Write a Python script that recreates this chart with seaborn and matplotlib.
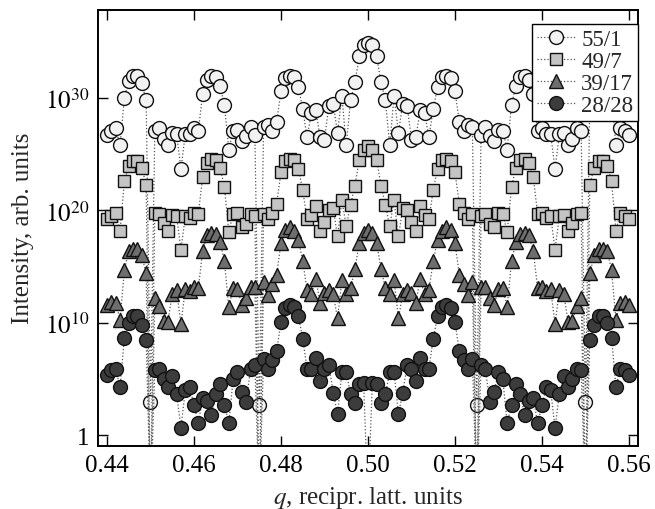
"""
Diffraction intensity vs q for four layer ratios (log scale, dotted lines + markers).
"""

import matplotlib
matplotlib.use("Agg")
import matplotlib.pyplot as plt
import numpy as np
import seaborn as sns

OUT = "out.png"

# q grid: 0.440 ... 0.560 in steps of 0.001
q = np.round(np.arange(440, 561) / 1000.0, 3)

OFF = -6.0  # zero intensity, falls below the axis

# log10(intensity)
log_55_1 = [
    26.7, 27.1, 27.3, 25.8, 30.0, 31.5, 32.0, 32.0, 31.3, 29.8,
    3.0, 27.1, 27.3, 26.4, 25.8, 26.9, 26.8, 23.7, 26.8, 26.8,
    27.3, 27.1, 30.4, 31.6, 32.0, 31.9, 31.1, 29.4, 25.4, 27.1,
    27.2, 26.2, 26.6, 27.4, 26.7, 2.7, 27.4, 27.6, 27.1, 27.9,
    30.6, 31.8, 32.0, 31.9, 31.0, 29.0, 26.5, 28.7, 28.9, 26.5,
    26.3, 29.3, 29.5, 26.9, 30.2, 25.8, 29.8, 31.4, 33.7, 34.7,
    34.9,
    34.7, 33.7, 31.4, 29.8, 25.8, 30.2, 26.9, 29.5, 29.3, 26.3,
    26.5, 28.9, 28.7, 26.5, 29.0, 31.0, 31.9, 32.0, 31.8, 30.6,
    27.9, 27.1, 27.6, 27.4, 2.7, 26.7, 27.4, 26.6, 26.2, 27.2,
    27.1, 25.4, 29.4, 31.1, 31.9, 32.0, 31.6, 30.4, 27.1, 27.3,
    26.8, 26.8, 23.7, 26.8, 26.9, 25.8, 26.4, 27.3, 27.1, 3.0,
    29.8, 31.3, 32.0, 32.0, 31.5, 30.0, 25.8, 27.3, 27.1, 26.7,
]

log_49_7 = [
    19.2, 19.5, 19.8, 18.2, 22.6, 24.0, 24.4, 24.4, 23.8, 22.3,
    OFF, 19.8, 19.7, 18.9, 18.2, 19.6, 19.5, 16.5, 19.5, 19.3,
    19.8, 19.7, 23.0, 24.2, 24.6, 24.5, 23.8, 22.1, 18.1, 19.7,
    19.8, 18.5, 18.8, 19.7, 19.5, OFF, 19.7, 19.2, 19.8, 20.6,
    23.4, 24.4, 24.6, 24.5, 23.7, 21.8, 19.2, 19.6, 20.4, 18.2,
    19.0, 20.0, 20.2, 17.7, 20.9, 18.6, 20.5, 22.2, 24.5, 25.4,
    25.7,
    25.4, 24.5, 22.2, 20.5, 18.6, 20.9, 17.7, 20.2, 20.0, 19.0,
    18.2, 20.4, 19.6, 19.2, 21.8, 23.7, 24.5, 24.6, 24.4, 23.4,
    20.6, 19.8, 19.2, 19.7, OFF, 19.5, 19.7, 18.8, 18.5, 19.8,
    19.7, 18.1, 22.1, 23.8, 24.5, 24.6, 24.2, 23.0, 19.7, 19.8,
    19.3, 19.5, 16.5, 19.5, 19.6, 18.2, 18.9, 19.7, 19.8, OFF,
    22.3, 23.8, 24.4, 24.4, 24.0, 22.6, 18.2, 19.8, 19.5, 19.2,
]

log_39_17 = [
    11.6, 11.9, 11.8, 10.3, 14.7, 16.4, 16.6, 16.6, 16.0, 14.4,
    OFF, 12.2, 11.5, 10.2, 10.1, 12.6, 12.9, 9.9, 13.0, 12.8,
    13.2, 13.1, 16.4, 17.8, 18.0, 17.9, 17.2, 15.5, 11.4, 13.1,
    13.0, 11.6, 12.2, 13.2, 13.2, OFF, 13.6, 12.5, 13.5, 14.3,
    17.1, 18.3, 18.5, 18.2, 17.4, 15.5, 12.9, 12.6, 13.9, 11.8,
    12.7, 12.9, 12.6, 10.4, 13.8, 12.6, 13.1, 14.8, 17.1, 18.0,
    18.3,
    18.0, 17.1, 14.8, 13.1, 12.6, 13.8, 10.4, 12.6, 12.9, 12.7,
    11.8, 13.9, 12.6, 12.9, 15.5, 17.4, 18.2, 18.5, 18.3, 17.1,
    14.3, 13.5, 12.5, 13.6, OFF, 13.2, 13.2, 12.2, 11.6, 13.0,
    13.1, 11.4, 15.5, 17.2, 17.9, 18.0, 17.8, 16.4, 13.1, 13.2,
    12.8, 13.0, 9.9, 12.9, 12.6, 10.1, 10.2, 11.5, 12.2, OFF,
    14.4, 16.0, 16.6, 16.6, 16.4, 14.7, 10.3, 11.8, 11.9, 11.6,
]

log_28_28 = [
    5.4, 5.8, 5.9, 4.3, 8.7, 10.0, 10.6, 10.6, 9.8, 8.5,
    OFF, 5.8, 5.9, 5.0, 4.3, 5.3, 3.7, 0.7, 4.0, 4.3,
    2.7, 1.1, 3.3, 3.1, 1.8, 3.7, 4.6, 2.7, 1.1, 5.0,
    5.6, 3.9, 3.0, 5.9, 6.3, OFF, 6.8, 5.9, 6.7, 7.5,
    10.1, 11.3, 11.6, 11.4, 10.6, 8.6, 5.9, 5.9, 6.9, 4.8,
    5.9, 6.3, 3.8, 1.9, 5.6, 5.6, 3.7, 2.9, 4.6, 4.7,
    OFF,
    4.7, 4.6, 2.9, 3.7, 5.6, 5.6, 1.9, 3.8, 6.3, 5.9,
    4.8, 6.9, 5.9, 5.9, 8.6, 10.6, 11.4, 11.6, 11.3, 10.1,
    7.5, 6.7, 5.9, 6.8, OFF, 6.3, 5.9, 3.0, 3.9, 5.6,
    5.0, 1.1, 2.7, 4.6, 3.7, 1.8, 3.1, 3.3, 1.1, 2.7,
    4.3, 4.0, 0.7, 3.7, 5.3, 4.3, 5.0, 5.9, 5.8, OFF,
    8.5, 9.8, 10.6, 10.6, 10.0, 8.7, 4.3, 5.9, 5.8, 5.4,
]

labels  = ["55/1", "49/7", "39/17", "28/28"]
markers = ["o", "s", "^", "o"]
fills   = ["#f2f2f2", "#c4c4c4", "#6e6e6e", "#3c3c3c"]
msizes  = [10.0, 8.0, 10.0, 10.0]

y_ticks  = [1, 1e10, 1e20, 1e30]
y_labels = ["1", "$10^{10}$", "$10^{20}$", "$10^{30}$"]
x_ticks  = [0.44, 0.46, 0.48, 0.50, 0.52, 0.54, 0.56]

sns.set_style("ticks")
plt.rcParams["font.family"] = ["Liberation Serif", "DejaVu Serif"]
plt.rcParams["mathtext.fontset"] = "stix"

fig = plt.figure(figsize=(6.55, 5.10), dpi=100)
ax = fig.add_axes([0.1496, 0.1241, 0.8244, 0.8549])
ax.set_yscale("log")

series = [log_55_1, log_49_7, log_39_17, log_28_28]
for logs, lab, mk, fc, ms in zip(series, labels, markers, fills, msizes):
    inten = 10.0 ** np.asarray(logs)
    sns.lineplot(
        x=q, y=inten, ax=ax, label=lab, sort=False, estimator=None,
        color="#555555", linestyle=":", linewidth=0.9,
        marker=mk, markersize=ms, markerfacecolor=fc,
        markeredgecolor="#111111", markeredgewidth=1.0,
    )

ax.set_xlim(0.43793, 0.56207)
ax.set_ylim(10 ** -0.91, 10 ** 37.85)
ax.set_xticks(x_ticks)
ax.set_xticklabels([f"{t:.2f}" for t in x_ticks])
ax.set_yticks(y_ticks)
ax.set_yticklabels(y_labels)
ax.yaxis.set_minor_locator(matplotlib.ticker.NullLocator())

ax.tick_params(direction="in", length=7, width=1.0, top=True, right=True,
               labelsize=18, pad=6, colors="black")
for sp in ax.spines.values():
    sp.set_linewidth(1.4)
    sp.set_color("black")

ax.set_xlabel("$q$, recipr. latt. units", fontsize=18, labelpad=6)
ax.set_ylabel("Intensity, arb. units", fontsize=18, labelpad=8)

leg = ax.legend(loc="upper right", bbox_to_anchor=(1.0, 0.967), borderaxespad=0,
                fontsize=16.5, frameon=True, fancybox=False, framealpha=1,
                edgecolor="black", handlelength=1.7, handletextpad=0.25,
                borderpad=0.2, labelspacing=0.05)
leg.get_frame().set_linewidth(1.0)

fig.savefig(OUT, dpi=100)
plt.close(fig)
